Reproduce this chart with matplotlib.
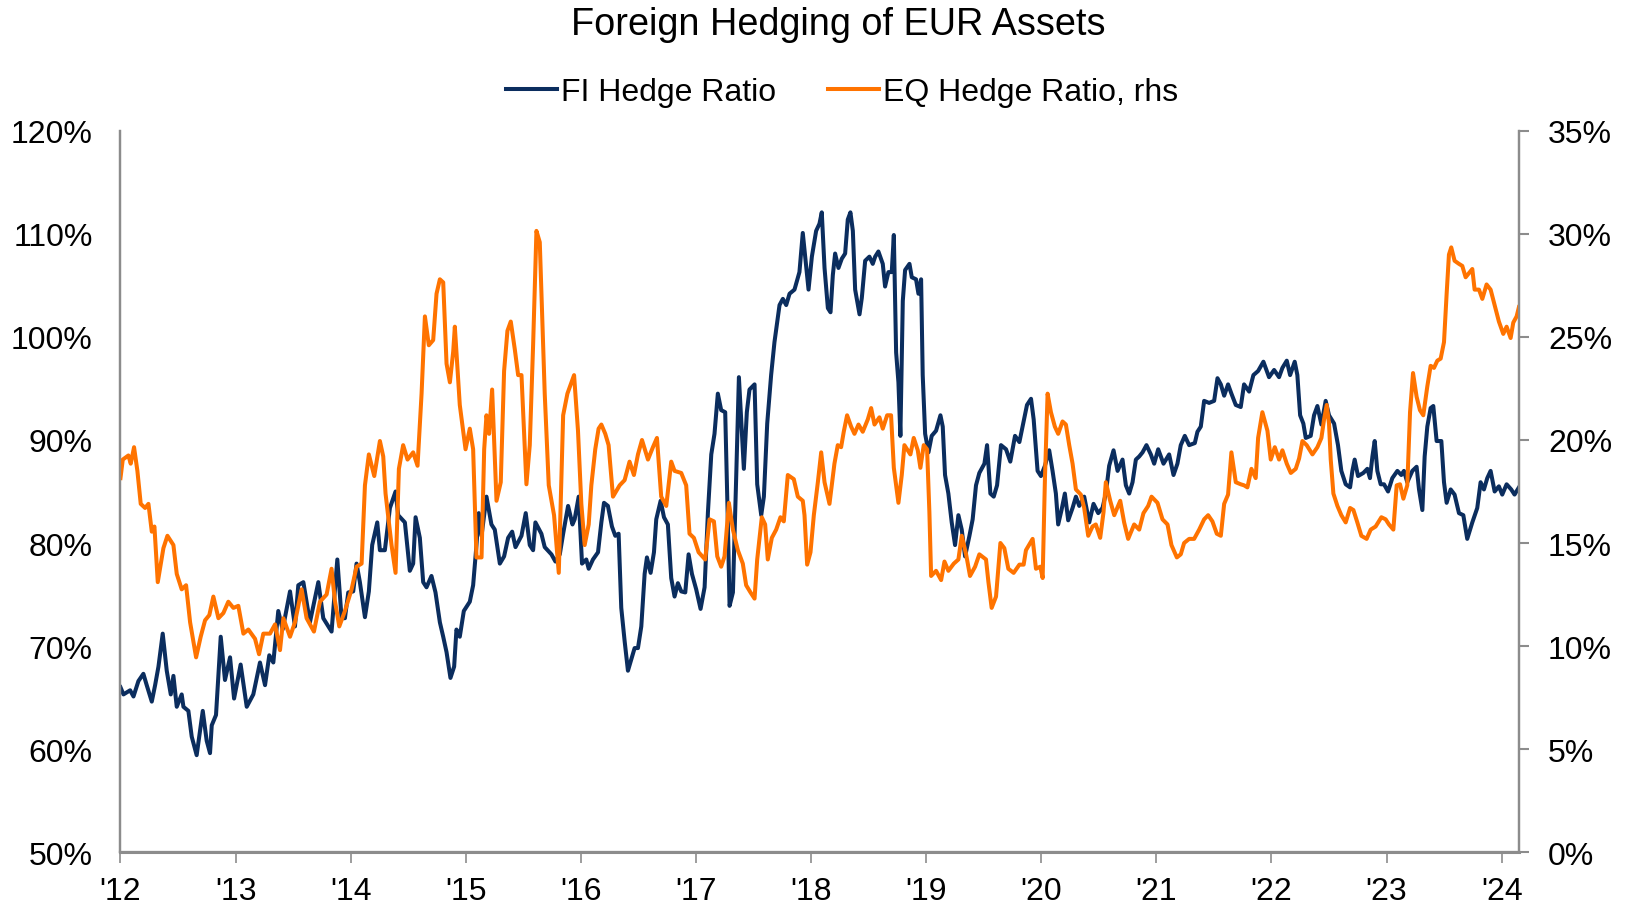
import matplotlib
matplotlib.use("Agg")
import matplotlib.pyplot as plt

plt.rcParams['font.family'] = ['Liberation Sans', 'DejaVu Sans']

# FI hedge ratio (lhs, %), (decimal year, value)
fi_hedge = [
	(2012.000, 66.0), (2012.026, 65.3), (2012.084, 65.7), (2012.113, 65.1), (2012.156, 66.6),
	(2012.199, 67.3), (2012.228, 66.2), (2012.272, 64.6), (2012.301, 66.2), (2012.330, 68.0),
	(2012.367, 71.2), (2012.402, 67.6), (2012.437, 65.3), (2012.460, 67.1), (2012.489, 64.1),
	(2012.532, 65.3), (2012.547, 64.1), (2012.590, 63.7), (2012.619, 61.2), (2012.662, 59.4),
	(2012.715, 63.7), (2012.749, 60.8), (2012.778, 59.6), (2012.793, 62.3), (2012.830, 63.3),
	(2012.871, 70.9), (2012.908, 66.7), (2012.952, 68.9), (2012.987, 64.9), (2013.044, 68.2),
	(2013.097, 64.1), (2013.154, 65.3), (2013.212, 68.4), (2013.256, 66.2), (2013.293, 69.1),
	(2013.328, 68.4), (2013.371, 73.4), (2013.409, 71.6), (2013.473, 75.3), (2013.516, 71.9),
	(2013.545, 75.9), (2013.589, 76.2), (2013.646, 72.3), (2013.719, 76.2), (2013.762, 72.7),
	(2013.834, 71.4), (2013.884, 78.4), (2013.921, 72.7),
	(2013.950, 72.7), (2013.979, 75.2), (2014.022, 75.3), (2014.051, 78.0), (2014.080, 76.2),
	(2014.124, 72.8), (2014.158, 75.3), (2014.187, 79.8), (2014.231, 82.0), (2014.254, 79.3),
	(2014.297, 79.3), (2014.341, 83.4), (2014.390, 85.0), (2014.413, 82.7), (2014.471, 82.0),
	(2014.514, 77.3), (2014.543, 78.0), (2014.564, 82.5), (2014.601, 80.5), (2014.630, 76.2),
	(2014.659, 75.7), (2014.702, 76.8), (2014.737, 75.2), (2014.775, 72.3), (2014.804, 70.9),
	(2014.833, 69.4), (2014.867, 66.9), (2014.899, 68.0), (2014.919, 71.6), (2014.948, 70.9),
	(2014.983, 73.4), (2015.035, 74.3), (2015.064, 75.9), (2015.093, 79.8), (2015.113, 82.9),
	(2015.137, 80.7), (2015.180, 84.5), (2015.223, 81.8), (2015.252, 81.3), (2015.296, 78.0),
	(2015.333, 78.7), (2015.368, 80.5), (2015.403, 81.1), (2015.432, 79.6), (2015.484, 80.7),
	(2015.521, 82.9), (2015.556, 79.8), (2015.585, 79.3), (2015.605, 82.0), (2015.657, 80.9),
	(2015.686, 79.6), (2015.744, 78.9), (2015.779, 78.2), (2015.817, 78.9), (2015.846, 80.9),
	(2015.889, 83.6), (2015.927, 81.8),
	(2015.946, 82.3), (2015.981, 84.5), (2016.010, 78.0), (2016.047, 78.4), (2016.068, 77.5),
	(2016.105, 78.4), (2016.149, 79.1), (2016.178, 82.0), (2016.201, 83.9), (2016.235, 83.6),
	(2016.270, 81.6), (2016.299, 80.7), (2016.328, 80.9), (2016.351, 73.7), (2016.380, 70.5),
	(2016.409, 67.6), (2016.438, 68.7), (2016.467, 69.8), (2016.496, 69.8), (2016.525, 71.9),
	(2016.554, 77.0), (2016.574, 78.6), (2016.606, 77.1), (2016.635, 79.1), (2016.655, 82.3),
	(2016.693, 84.1), (2016.722, 82.5), (2016.756, 81.8), (2016.785, 76.6), (2016.814, 74.8),
	(2016.843, 76.1), (2016.872, 75.3), (2016.907, 75.2), (2016.936, 78.9), (2016.965, 77.0),
	(2017.002, 75.5), (2017.040, 73.6), (2017.075, 75.7), (2017.104, 83.0), (2017.133, 88.6),
	(2017.161, 90.6), (2017.190, 94.5), (2017.219, 92.9), (2017.254, 92.7), (2017.277, 82.0),
	(2017.292, 73.9), (2017.321, 75.2), (2017.350, 86.6), (2017.373, 96.1), (2017.393, 92.0),
	(2017.416, 87.2), (2017.442, 92.7), (2017.465, 94.9), (2017.509, 95.4), (2017.532, 85.7),
	(2017.567, 82.7), (2017.590, 84.5), (2017.619, 91.6), (2017.653, 96.3), (2017.682, 99.5),
	(2017.726, 103.1), (2017.755, 103.7), (2017.784, 103.1), (2017.813, 104.2), (2017.856, 104.6),
	(2017.899, 106.3), (2017.928, 110.1),
	(2017.978, 104.6), (2018.007, 107.8), (2018.044, 110.3), (2018.073, 111.0), (2018.093, 112.1),
	(2018.117, 106.7), (2018.146, 102.8), (2018.169, 102.4), (2018.189, 106.0), (2018.209, 108.1),
	(2018.238, 106.7), (2018.267, 107.6), (2018.296, 108.1), (2018.319, 111.4), (2018.342, 112.1),
	(2018.363, 110.3), (2018.383, 104.6), (2018.421, 102.2), (2018.441, 103.8), (2018.470, 107.4),
	(2018.507, 107.8), (2018.536, 107.1), (2018.557, 107.8), (2018.585, 108.3), (2018.623, 107.1),
	(2018.643, 104.9), (2018.672, 106.3), (2018.701, 106.3), (2018.719, 109.9), (2018.739, 98.5),
	(2018.759, 95.6), (2018.776, 90.4), (2018.797, 103.5), (2018.817, 106.5), (2018.855, 107.1),
	(2018.875, 105.8), (2018.912, 105.6), (2018.933, 104.2), (2018.956, 105.6), (2018.970, 96.3),
	(2018.991, 90.6), (2019.020, 88.8), (2019.048, 90.4), (2019.086, 90.9), (2019.124, 92.4),
	(2019.144, 91.3), (2019.164, 86.6), (2019.193, 84.8), (2019.222, 82.0), (2019.251, 79.8),
	(2019.280, 82.7), (2019.309, 81.3), (2019.338, 78.7), (2019.376, 80.7), (2019.404, 82.3),
	(2019.433, 85.6), (2019.462, 86.8), (2019.506, 87.7), (2019.529, 89.5), (2019.558, 84.8),
	(2019.587, 84.5), (2019.616, 85.6), (2019.650, 89.5), (2019.694, 89.1), (2019.731, 87.9),
	(2019.772, 90.4), (2019.810, 89.8), (2019.847, 91.8), (2019.876, 93.4), (2019.911, 94.0),
	(2019.934, 92.0),
	(2019.968, 87.0), (2019.997, 86.5), (2020.032, 87.5), (2020.069, 89.0), (2020.098, 87.0),
	(2020.127, 84.8), (2020.147, 81.8), (2020.176, 83.2), (2020.205, 84.8), (2020.234, 82.2),
	(2020.272, 83.4), (2020.301, 84.5), (2020.330, 83.6), (2020.373, 84.5), (2020.396, 83.2),
	(2020.417, 82.0), (2020.454, 83.8), (2020.495, 82.9), (2020.532, 83.4), (2020.561, 84.8),
	(2020.590, 87.5), (2020.628, 89.0), (2020.663, 87.0), (2020.706, 88.1), (2020.735, 85.6),
	(2020.764, 84.8), (2020.793, 85.9), (2020.822, 88.1), (2020.851, 88.4), (2020.880, 88.8),
	(2020.914, 89.5), (2020.952, 88.6), (2020.981, 87.7), (2021.016, 89.1), (2021.062, 87.7),
	(2021.111, 88.6), (2021.149, 86.6), (2021.183, 87.7), (2021.212, 89.5), (2021.247, 90.4),
	(2021.285, 89.5), (2021.334, 89.7), (2021.357, 90.8), (2021.386, 91.3), (2021.415, 93.8),
	(2021.458, 93.6), (2021.502, 93.8), (2021.531, 96.0), (2021.560, 95.4), (2021.589, 94.3),
	(2021.623, 95.4), (2021.652, 94.5), (2021.690, 93.4), (2021.733, 93.2), (2021.762, 95.4),
	(2021.806, 94.7), (2021.843, 96.3), (2021.884, 96.7), (2021.930, 97.6),
	(2021.979, 96.1), (2022.023, 96.8), (2022.066, 96.1), (2022.095, 97.0), (2022.133, 97.7),
	(2022.162, 96.3), (2022.202, 97.6), (2022.225, 96.3), (2022.249, 92.4), (2022.277, 91.6),
	(2022.298, 90.2), (2022.341, 90.4), (2022.370, 92.4), (2022.399, 93.3), (2022.434, 91.5),
	(2022.471, 93.8), (2022.500, 92.4), (2022.544, 91.6), (2022.578, 89.5), (2022.607, 87.0),
	(2022.645, 85.7), (2022.683, 85.4), (2022.703, 87.0), (2022.723, 88.1), (2022.752, 86.5),
	(2022.798, 86.8), (2022.833, 87.2), (2022.856, 86.3), (2022.877, 88.4), (2022.897, 89.9),
	(2022.920, 87.0), (2022.949, 85.7), (2022.978, 85.7), (2023.013, 85.0), (2023.050, 86.3),
	(2023.094, 87.0), (2023.128, 86.6), (2023.151, 87.0), (2023.180, 85.9), (2023.224, 87.0),
	(2023.261, 87.4), (2023.282, 85.2), (2023.311, 83.2), (2023.331, 88.4), (2023.354, 91.3),
	(2023.383, 93.1), (2023.406, 93.3), (2023.435, 89.9), (2023.476, 89.9), (2023.499, 85.9),
	(2023.522, 83.9), (2023.557, 85.2), (2023.591, 84.7), (2023.629, 82.9), (2023.667, 82.7),
	(2023.701, 80.4), (2023.745, 82.0), (2023.788, 83.4), (2023.817, 85.9), (2023.846, 85.2),
	(2023.875, 86.3), (2023.904, 87.0), (2023.939, 85.0), (2023.976, 85.5), (2024.005, 84.7),
	(2024.043, 85.7), (2024.083, 85.2), (2024.112, 84.7), (2024.150, 85.4),
]

# EQ hedge ratio (rhs, %), (decimal year, value)
eq_hedge = [
	(2012.000, 18.15), (2012.020, 19.05), (2012.069, 19.25), (2012.089, 18.85), (2012.118, 19.65),
	(2012.147, 18.50), (2012.176, 16.90), (2012.214, 16.70), (2012.243, 16.90), (2012.272, 15.55),
	(2012.295, 15.80), (2012.324, 13.10), (2012.373, 14.75), (2012.408, 15.35), (2012.460, 14.90),
	(2012.489, 13.50), (2012.532, 12.75), (2012.570, 12.95), (2012.605, 11.15), (2012.657, 9.45),
	(2012.697, 10.45), (2012.735, 11.25), (2012.772, 11.50), (2012.807, 12.40), (2012.851, 11.35),
	(2012.894, 11.60), (2012.937, 12.15), (2012.981, 11.85), (2013.024, 11.95), (2013.068, 10.60),
	(2013.111, 10.80), (2013.169, 10.35), (2013.204, 9.60), (2013.241, 10.60), (2013.299, 10.60),
	(2013.343, 11.05), (2013.386, 9.80), (2013.415, 11.35), (2013.473, 10.45), (2013.516, 11.15),
	(2013.574, 12.75), (2013.617, 11.35), (2013.681, 10.70), (2013.733, 12.15), (2013.791, 12.50),
	(2013.834, 13.75), (2013.863, 12.20), (2013.901, 10.95),
	(2013.950, 11.70), (2014.008, 12.75), (2014.051, 13.85), (2014.095, 14.00), (2014.124, 17.80),
	(2014.158, 19.30), (2014.205, 18.25), (2014.254, 19.95), (2014.283, 19.20), (2014.303, 17.40),
	(2014.355, 14.90), (2014.390, 13.55), (2014.419, 18.60), (2014.456, 19.75), (2014.494, 19.05),
	(2014.543, 19.40), (2014.581, 18.75), (2014.616, 22.25), (2014.645, 26.00), (2014.679, 24.60),
	(2014.717, 24.85), (2014.746, 27.10), (2014.775, 27.80), (2014.804, 27.65), (2014.833, 23.70),
	(2014.862, 22.80), (2014.891, 24.30), (2014.905, 25.50), (2014.948, 21.70), (2014.998, 19.55),
	(2015.035, 20.55), (2015.064, 19.55), (2015.093, 14.30), (2015.137, 14.30), (2015.160, 19.55),
	(2015.180, 21.20), (2015.203, 20.30), (2015.229, 22.45), (2015.267, 17.05), (2015.304, 17.95),
	(2015.333, 23.35), (2015.362, 25.30), (2015.391, 25.75), (2015.426, 24.40), (2015.455, 23.15),
	(2015.484, 23.15), (2015.527, 17.85), (2015.556, 19.75), (2015.585, 24.60), (2015.614, 30.15),
	(2015.643, 29.60), (2015.686, 22.25), (2015.721, 17.80), (2015.767, 16.35), (2015.808, 13.55),
	(2015.846, 21.20), (2015.883, 22.25), (2015.941, 23.15),
	(2015.975, 20.45), (2016.004, 16.90), (2016.033, 14.90), (2016.068, 15.90), (2016.091, 17.80),
	(2016.125, 19.55), (2016.154, 20.55), (2016.178, 20.75), (2016.212, 20.30), (2016.241, 19.75),
	(2016.279, 17.25), (2016.337, 17.80), (2016.380, 18.05), (2016.423, 18.95), (2016.461, 18.30),
	(2016.496, 19.30), (2016.531, 20.00), (2016.583, 19.05), (2016.626, 19.65), (2016.661, 20.10),
	(2016.698, 17.25), (2016.742, 16.80), (2016.785, 18.95), (2016.814, 18.50), (2016.872, 18.40),
	(2016.915, 17.80), (2016.944, 15.45), (2016.982, 15.25), (2017.023, 14.55), (2017.080, 14.20),
	(2017.118, 16.15), (2017.156, 16.05), (2017.185, 14.35), (2017.219, 13.85), (2017.248, 14.35),
	(2017.286, 16.95), (2017.321, 15.65), (2017.364, 14.65), (2017.407, 14.00), (2017.436, 12.95),
	(2017.474, 12.60), (2017.509, 12.30), (2017.532, 14.20), (2017.572, 16.25), (2017.601, 15.90),
	(2017.624, 14.20), (2017.659, 15.25), (2017.697, 15.65), (2017.734, 16.25), (2017.763, 16.05),
	(2017.798, 18.30), (2017.850, 18.10), (2017.885, 17.25), (2017.928, 17.05),
	(2017.943, 16.35), (2017.966, 13.95), (2017.995, 14.55), (2018.024, 16.35), (2018.059, 17.95),
	(2018.088, 19.40), (2018.117, 17.95), (2018.160, 16.90), (2018.203, 18.85), (2018.232, 19.75),
	(2018.261, 19.65), (2018.284, 20.40), (2018.313, 21.20), (2018.348, 20.65), (2018.377, 20.30),
	(2018.412, 20.75), (2018.449, 20.40), (2018.493, 21.00), (2018.522, 21.55), (2018.551, 20.75),
	(2018.594, 21.10), (2018.623, 20.55), (2018.661, 21.20), (2018.695, 21.20), (2018.719, 18.65),
	(2018.759, 16.95), (2018.788, 18.30), (2018.811, 19.75), (2018.863, 19.30), (2018.892, 20.10),
	(2018.927, 19.50), (2018.950, 18.65), (2018.979, 19.75), (2019.008, 19.55), (2019.028, 16.50),
	(2019.043, 13.40), (2019.086, 13.65), (2019.130, 13.20), (2019.159, 14.10), (2019.193, 13.65),
	(2019.240, 14.00), (2019.280, 14.20), (2019.309, 15.35), (2019.347, 14.45), (2019.381, 13.40),
	(2019.425, 13.85), (2019.462, 14.45), (2019.520, 14.20), (2019.541, 13.10), (2019.569, 11.85),
	(2019.607, 12.40), (2019.645, 15.00), (2019.679, 14.75), (2019.714, 13.75), (2019.760, 13.55),
	(2019.810, 13.95), (2019.847, 13.95), (2019.867, 14.65), (2019.925, 15.20), (2019.954, 13.75),
	(2019.992, 13.85), (2020.012, 13.30), (2020.032, 18.15),
	(2020.055, 22.25), (2020.084, 21.35), (2020.118, 20.65), (2020.147, 20.30), (2020.185, 20.90),
	(2020.214, 20.75), (2020.243, 19.75), (2020.272, 18.85), (2020.301, 17.60), (2020.344, 17.35),
	(2020.373, 16.70), (2020.408, 15.35), (2020.445, 15.80), (2020.474, 15.90), (2020.512, 15.25),
	(2020.541, 16.50), (2020.561, 17.95), (2020.599, 17.05), (2020.634, 16.35), (2020.686, 17.05),
	(2020.720, 16.00), (2020.755, 15.20), (2020.807, 15.90), (2020.851, 15.65), (2020.888, 16.45),
	(2020.929, 16.80), (2020.958, 17.25), (2021.010, 16.95), (2021.053, 16.15), (2021.097, 15.90),
	(2021.131, 14.90), (2021.178, 14.30), (2021.212, 14.45), (2021.241, 15.00), (2021.285, 15.20),
	(2021.328, 15.20), (2021.372, 15.65), (2021.415, 16.15), (2021.450, 16.35), (2021.487, 16.05),
	(2021.525, 15.45), (2021.560, 15.35), (2021.589, 16.90), (2021.623, 17.35), (2021.652, 19.40),
	(2021.690, 17.95), (2021.733, 17.85), (2021.762, 17.80), (2021.791, 17.70), (2021.826, 18.60),
	(2021.863, 18.15), (2021.884, 20.10), (2021.921, 21.35),
	(2021.965, 20.45), (2021.994, 19.05), (2022.029, 19.65), (2022.066, 19.05), (2022.095, 19.50),
	(2022.133, 18.85), (2022.168, 18.40), (2022.211, 18.60), (2022.240, 19.10), (2022.269, 19.95),
	(2022.306, 19.75), (2022.356, 19.30), (2022.399, 19.65), (2022.434, 20.10), (2022.457, 21.00),
	(2022.480, 21.70), (2022.500, 20.80), (2022.515, 19.05), (2022.538, 17.40), (2022.573, 16.80),
	(2022.607, 16.35), (2022.645, 16.00), (2022.683, 16.70), (2022.712, 16.60), (2022.746, 16.00),
	(2022.781, 15.35), (2022.827, 15.20), (2022.862, 15.65), (2022.905, 15.80), (2022.955, 16.25),
	(2022.992, 16.15), (2023.021, 15.90), (2023.059, 15.65), (2023.088, 17.80), (2023.117, 17.85),
	(2023.146, 17.15), (2023.180, 17.80), (2023.204, 21.35), (2023.230, 23.25), (2023.261, 22.10),
	(2023.290, 21.45), (2023.319, 21.20), (2023.354, 22.60), (2023.383, 23.60), (2023.412, 23.50),
	(2023.441, 23.85), (2023.470, 23.95), (2023.499, 24.75), (2023.522, 27.10), (2023.542, 29.00),
	(2023.562, 29.35), (2023.591, 28.70), (2023.629, 28.55), (2023.658, 28.45), (2023.687, 27.90),
	(2023.716, 28.10), (2023.745, 28.30), (2023.765, 27.30), (2023.803, 27.30), (2023.832, 26.85),
	(2023.869, 27.55), (2023.904, 27.30), (2023.939, 26.55), (2023.976, 25.75), (2024.014, 25.15),
	(2024.043, 25.50), (2024.078, 24.95), (2024.101, 25.70), (2024.130, 26.00), (2024.150, 26.45),
]

years = list(range(2012, 2025))
year_labels = ["'%02d" % (y % 100) for y in years]
lhs_ticks = [50, 60, 70, 80, 90, 100, 110, 120]
rhs_ticks = [0, 5, 10, 15, 20, 25, 30, 35]

navy = '#0B2D5E'
orange = '#FF7300'
grey = '#8C8C8C'

fig = plt.figure(figsize=(16.28, 9.04), dpi=100)
ax = fig.add_axes([0.0740, 0.0564, 0.8590, 0.7976])
ax2 = ax.twinx()

fi_x, fi_y = zip(*fi_hedge)
eq_x, eq_y = zip(*eq_hedge)
l1, = ax.plot(fi_x, fi_y, color=navy, lw=2.9, label='FI Hedge Ratio')
l2, = ax2.plot(eq_x, eq_y, color=orange, lw=2.9, label='EQ Hedge Ratio, rhs')

ax.set_xlim(2012, 2024.15)
ax.set_ylim(50, 120)
ax2.set_ylim(0, 35)
ax.set_xticks(years)
ax.set_xticklabels(year_labels)
ax.set_yticks(lhs_ticks)
ax.set_yticklabels(['%d%%' % v for v in lhs_ticks])
ax2.set_yticks(rhs_ticks)
ax2.set_yticklabels(['%d%%' % v for v in rhs_ticks])

for a in (ax, ax2):
	a.spines['top'].set_visible(False)
	for s in ('left', 'right', 'bottom'):
		a.spines[s].set_color(grey)
		a.spines[s].set_linewidth(1.6)
ax.spines['bottom'].set_linewidth(2.2)

ax.tick_params(axis='y', length=0, pad=20, labelsize=23)
ax.tick_params(axis='x', length=8, width=1.2, color=grey, direction='out', pad=9, labelsize=23)
ax2.tick_params(axis='y', length=7, width=1.5, color=grey, direction='out', pad=14, labelsize=23)

fig.text(0.515, 0.972, 'Foreign Hedging of EUR Assets', ha='center', va='center', fontsize=27.3)
fig.legend(handles=[l1, l2], loc='center', bbox_to_anchor=(0.517, 0.897), ncol=2, frameon=False,
	fontsize=23, handlelength=1.6, handletextpad=0.12, columnspacing=1.63)

fig.savefig('out.png', dpi=100)
